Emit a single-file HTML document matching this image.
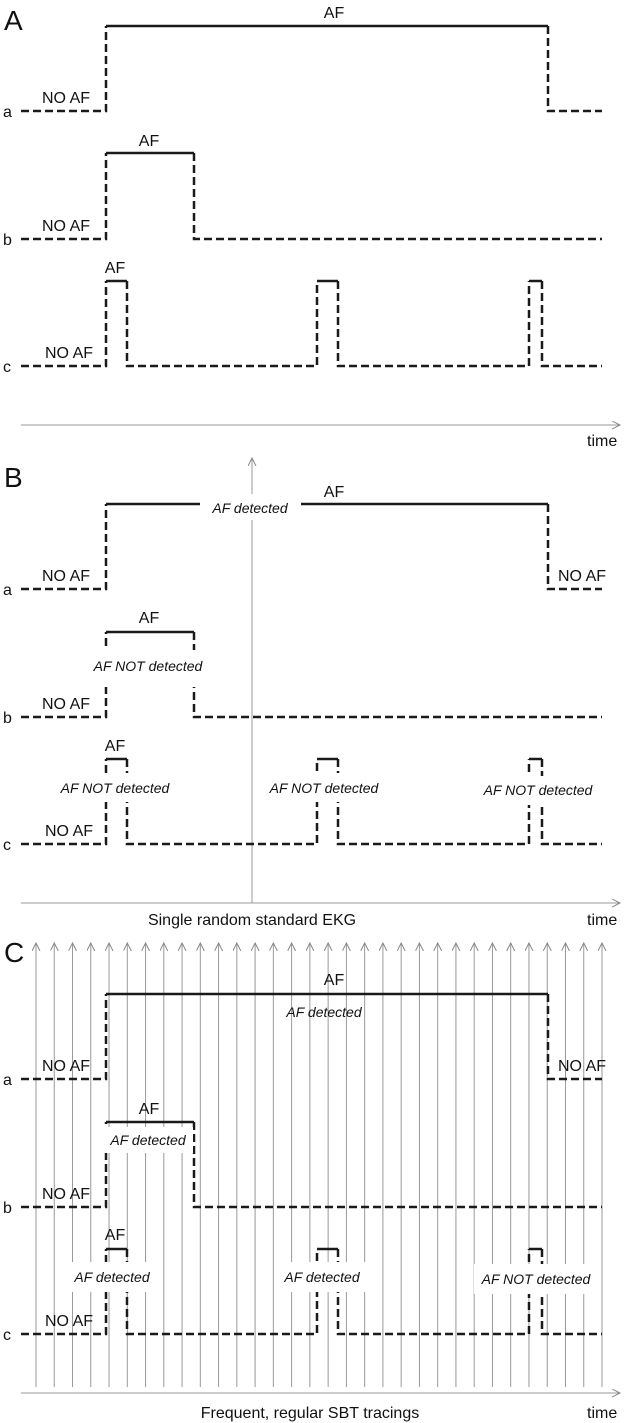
<!DOCTYPE html>
<html><head><meta charset="utf-8"><style>
html,body{margin:0;padding:0;background:#fff;}
svg{display:block;}
text{font-family:"Liberation Sans",sans-serif;fill:#111;}
.l{font-size:16px;}
.i{font-size:14px;font-style:italic;}
.big{font-size:28px;}
</style></head><body>
<svg width="624" height="1423" viewBox="0 0 624 1423" xmlns="http://www.w3.org/2000/svg">
<defs>
<marker id="ar" markerWidth="10" markerHeight="10" refX="8" refY="4" orient="auto" markerUnits="userSpaceOnUse">
<path d="M0,0 L8,4 L0,8" fill="none" stroke="#888" stroke-width="1"/>
</marker>
</defs>
<g id="sbt" stroke="#999" stroke-width="1" marker-end="url(#ar)">
</g>
<g fill="none" stroke="#999" stroke-width="1" marker-end="url(#ar)">
<line x1="21" y1="425" x2="620" y2="425"/>
<line x1="21" y1="903" x2="620" y2="903"/>
<line x1="252" y1="903" x2="252" y2="458"/>
<line x1="21" y1="1393" x2="620" y2="1393"/>
</g>
<g fill="none" stroke="#999" stroke-width="1" marker-end="url(#ar)" id="vl"></g>
<script>
var g=document.getElementById('vl');
for(var i=0;i<32;i++){var x=36+i*(566/31);var l=document.createElementNS('http://www.w3.org/2000/svg','line');l.setAttribute('x1',x);l.setAttribute('x2',x);l.setAttribute('y1',1387);l.setAttribute('y2',943);g.appendChild(l);}
</script>
<!-- traces -->
<g fill="none" stroke="#1a1a1a" stroke-width="2.5" stroke-dasharray="8,4">
<path d="M21 111H106V26M548 26V111H602"/>
<path d="M21 239H106V153M194 153V239H602"/>
<path d="M21 366H106V281M127 281V366H317V281M338 281V366H529V281M542 281V366H602"/>
<path d="M21 589H106V504M548 504V589H602"/>
<path d="M21 717H106V632M194 632V717H602"/>
<path d="M21 844H106V759M127 759V844H317V759M338 759V844H529V759M542 759V844H602"/>
<path d="M21 1079H106V994M548 994V1079H602"/>
<path d="M21 1207H106V1122M194 1122V1207H602"/>
<path d="M21 1334H106V1249M127 1249V1334H317V1249M338 1249V1334H529V1249M542 1249V1334H602"/>
</g>
<g fill="none" stroke="#1a1a1a" stroke-width="2.5">
<path d="M106 26H548M106 153H194M106 281H127M317 281H338M529 281H542"/>
<path d="M106 504H548M106 632H194M106 759H127M317 759H338M529 759H542"/>
<path d="M106 994H548M106 1122H194M106 1249H127M317 1249H338M529 1249H542"/>
</g>
<!-- white masks -->
<g fill="#fff">
<rect x="200" y="494" width="101" height="26"/>
<rect x="86" y="650" width="124" height="37"/>
<rect x="53" y="773" width="124" height="29"/>
<rect x="263" y="773" width="122" height="29"/>
<rect x="476" y="776" width="123" height="29"/>
<rect x="103" y="1127" width="90" height="26"/>
<rect x="69" y="1262" width="86" height="30"/>
<rect x="279" y="1262" width="87" height="30"/>
<rect x="474" y="1264" width="124" height="30"/>
</g>
<!-- A -->
<text class="big" x="4" y="30">A</text>
<text class="l" x="334" y="18" text-anchor="middle">AF</text>
<text class="l" x="42" y="103">NO AF</text>
<text class="l" x="3" y="117">a</text>
<text class="l" x="149" y="146" text-anchor="middle">AF</text>
<text class="l" x="42" y="231">NO AF</text>
<text class="l" x="3" y="245">b</text>
<text class="l" x="115" y="273" text-anchor="middle">AF</text>
<text class="l" x="45" y="358">NO AF</text>
<text class="l" x="3" y="372">c</text>
<text class="l" x="587" y="446">time</text>
<!-- B -->
<text class="big" x="4" y="487">B</text>
<text class="l" x="334" y="497" text-anchor="middle">AF</text>
<text class="i" x="250" y="513" text-anchor="middle">AF detected</text>
<text class="l" x="42" y="581">NO AF</text>
<text class="l" x="558" y="581">NO AF</text>
<text class="l" x="3" y="595">a</text>
<text class="l" x="149" y="623" text-anchor="middle">AF</text>
<text class="i" x="148" y="671" text-anchor="middle">AF NOT detected</text>
<text class="l" x="42" y="709">NO AF</text>
<text class="l" x="3" y="723">b</text>
<text class="l" x="115" y="751" text-anchor="middle">AF</text>
<text class="i" x="115" y="793" text-anchor="middle">AF NOT detected</text>
<text class="i" x="324" y="793" text-anchor="middle">AF NOT detected</text>
<text class="i" x="538" y="795" text-anchor="middle">AF NOT detected</text>
<text class="l" x="45" y="836">NO AF</text>
<text class="l" x="3" y="850">c</text>
<text class="l" x="252" y="925" text-anchor="middle">Single random standard EKG</text>
<text class="l" x="587" y="925">time</text>
<!-- C -->
<text class="big" x="4" y="962">C</text>
<text class="l" x="334" y="985" text-anchor="middle">AF</text>
<text class="i" x="324" y="1017" text-anchor="middle">AF detected</text>
<text class="l" x="42" y="1071">NO AF</text>
<text class="l" x="558" y="1071">NO AF</text>
<text class="l" x="3" y="1085">a</text>
<text class="l" x="149" y="1114" text-anchor="middle">AF</text>
<text class="i" x="148" y="1145" text-anchor="middle">AF detected</text>
<text class="l" x="42" y="1199">NO AF</text>
<text class="l" x="3" y="1213">b</text>
<text class="l" x="115" y="1240" text-anchor="middle">AF</text>
<text class="i" x="112" y="1282" text-anchor="middle">AF detected</text>
<text class="i" x="322" y="1282" text-anchor="middle">AF detected</text>
<text class="i" x="536" y="1284" text-anchor="middle">AF NOT detected</text>
<text class="l" x="45" y="1326">NO AF</text>
<text class="l" x="3" y="1340">c</text>
<text class="l" x="310" y="1418" text-anchor="middle">Frequent, regular SBT tracings</text>
<text class="l" x="587" y="1418">time</text>
</svg>
</body></html>
